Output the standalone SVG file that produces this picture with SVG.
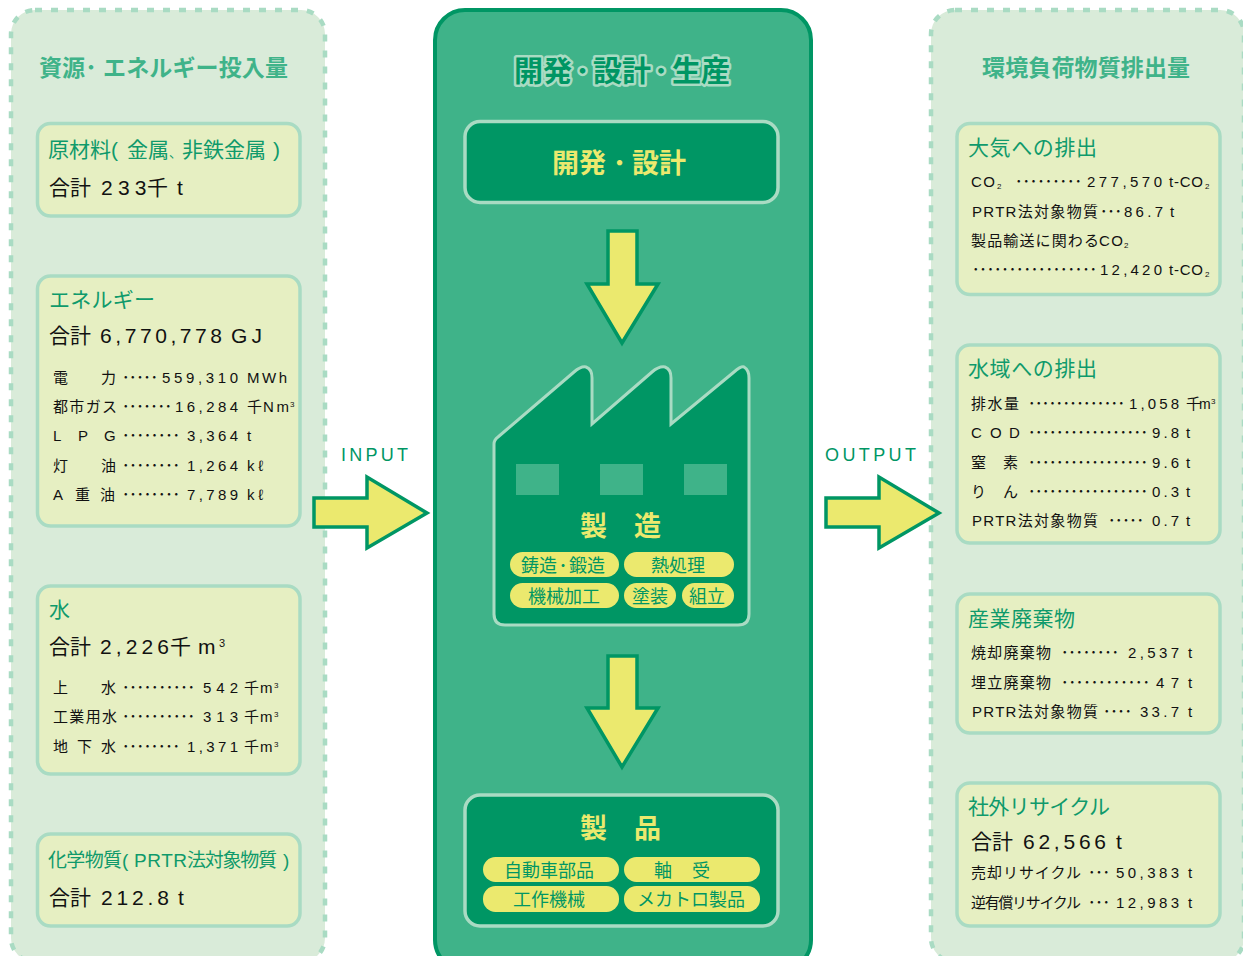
<svg xmlns="http://www.w3.org/2000/svg" width="1243" height="956" viewBox="0 0 1243 956">
<style>
text{font-family:"Liberation Sans","Noto Sans CJK JP",sans-serif}
.panel{fill:#d9ebd9;stroke:#a9dbc3;stroke-width:4.5;stroke-dasharray:7 9}
.box{fill:#e6efc2;stroke:#a9dbc3;stroke-width:3.5}
.dark{fill:#009664;stroke:#a9dbc3;stroke-width:3.5}
.arrow{fill:#ebe96e;stroke:#009664;stroke-width:3.5}
.ptitle{font-size:23px;font-weight:bold;fill:#3fb389}
.h{font-size:21px;fill:#0f9a6b}
.h2{font-size:19px;fill:#0f9a6b}
.t{font-size:21px;fill:#111}
.r{font-size:15px;fill:#111}
.s{font-size:8px;fill:#111}
.y{font-weight:bold;fill:#ebe96e;font-size:27px}
.ctitle{font-size:29px;font-weight:bold;fill:#009664;stroke:#a9dbc3;stroke-width:5;stroke-linejoin:round;paint-order:stroke}
.pill{fill:#ebe96e}
.pt{font-size:18px;fill:#009664;text-anchor:middle}
.io{font-size:18px;fill:#009664}
.m{text-anchor:middle}
</style>
<g id="panel-left">
<rect class="panel" x="11" y="10" width="314" height="952" rx="24"/>
<text class="ptitle" x="39" y="76">資源</text><text class="ptitle m" x="91" y="76">･</text><text class="ptitle" x="103" y="76" textLength="185" lengthAdjust="spacing">エネルギー投入量</text>
</g>
<g id="panel-center">
<rect x="435" y="10" width="376" height="960" rx="30" fill="#3fb389" stroke="#009664" stroke-width="4"/>
<text class="ctitle" x="514" y="82">開発</text><text class="ctitle m" x="582.500" y="82">･</text><text class="ctitle" x="593" y="82">設計</text><text class="ctitle m" x="661" y="82">･</text><text class="ctitle" x="672" y="82">生産</text>
</g>
<g id="panel-right">
<rect class="panel" x="931" y="10" width="313" height="952" rx="24"/>
<text class="ptitle" x="982" y="76" textLength="208" lengthAdjust="spacing">環境負荷物質排出量</text>
</g>

<g id="input-materials">
<rect class="box" x="37.5" y="123.5" width="262.5" height="92.5" rx="13"/>
<text class="h" x="48" y="157">原材料(</text><text class="h" x="127" y="157">金属</text><text class="h" x="169" y="157" style="font-size:13px">、</text><text class="h" x="182" y="157">非鉄金属</text><text class="h" x="273" y="157">)</text>
<text class="t" x="49" y="195">合計</text><text class="t" x="101" y="195" textLength="45.500" lengthAdjust="spacing">233</text><text class="t" x="147" y="195">千</text><text class="t" x="177" y="195">t</text>
</g>
<g id="input-energy">
<rect class="box" x="37.5" y="276" width="262.5" height="250" rx="13"/>
<text class="h" x="49" y="307" textLength="106" lengthAdjust="spacing">エネルギー</text>
<text class="t" x="49" y="343">合計</text><text class="t" x="100" y="343" textLength="122" lengthAdjust="spacing">6,770,778</text><text class="t" x="231" y="343" textLength="31" lengthAdjust="spacing">GJ</text>
<text class="r" x="53" y="383">電</text><text class="r" x="101" y="383">力</text>
<text class="r" x="122" y="383" textLength="36" lengthAdjust="spacing">･････</text>
<text class="r" x="162" y="383" textLength="76" lengthAdjust="spacing">559,310</text>
<text class="r" x="247" y="383" textLength="40" lengthAdjust="spacing">MWh</text>
<text class="r" x="53" y="412" textLength="64" lengthAdjust="spacing">都市ガス</text>
<text class="r" x="122" y="412" textLength="50" lengthAdjust="spacing">･･･････</text>
<text class="r" x="175" y="412" textLength="63" lengthAdjust="spacing">16,284</text>
<text class="r" x="247" y="412">千</text><text class="r" x="263" y="412" textLength="26" lengthAdjust="spacing">Nm</text><text class="s" x="290" y="407">3</text>
<text class="r" x="53" y="441">L</text><text class="r" x="78" y="441">P</text><text class="r" x="104" y="441">G</text>
<text class="r" x="122" y="441" textLength="58" lengthAdjust="spacing">････････</text>
<text class="r" x="187" y="441" textLength="51" lengthAdjust="spacing">3,364</text>
<text class="r" x="247" y="441">t</text>
<text class="r" x="53" y="471">灯</text><text class="r" x="101" y="471">油</text>
<text class="r" x="122" y="471" textLength="58" lengthAdjust="spacing">････････</text>
<text class="r" x="187" y="471" textLength="51" lengthAdjust="spacing">1,264</text>
<text class="r" x="247" y="471" textLength="16" lengthAdjust="spacing">kℓ</text>
<text class="r" x="53" y="500">A</text><text class="r" x="75" y="500">重</text><text class="r" x="100" y="500">油</text>
<text class="r" x="122" y="500" textLength="58" lengthAdjust="spacing">････････</text>
<text class="r" x="187" y="500" textLength="51" lengthAdjust="spacing">7,789</text>
<text class="r" x="247" y="500" textLength="16" lengthAdjust="spacing">kℓ</text>
</g>
<g id="input-water">
<rect class="box" x="37.5" y="586" width="262.5" height="188" rx="13"/>
<text class="h" x="49" y="617">水</text>
<text class="t" x="49" y="654">合計</text><text class="t" x="100" y="654" textLength="69" lengthAdjust="spacing">2,226</text><text class="t" x="170" y="654">千</text><text class="t" x="198" y="654">m</text><text class="s" x="219" y="647" style="font-size:11px">3</text>
<text class="r" x="53" y="693">上</text><text class="r" x="101" y="693">水</text>
<text class="r" x="122" y="693" textLength="73" lengthAdjust="spacing">･･････････</text>
<text class="r" x="203" y="693" textLength="35" lengthAdjust="spacing">542</text>
<text class="r" x="244" y="693">千</text><text class="r" x="260" y="693">m</text><text class="s" x="274" y="688">3</text>
<text class="r" x="53" y="722" textLength="64" lengthAdjust="spacing">工業用水</text>
<text class="r" x="122" y="722" textLength="73" lengthAdjust="spacing">･･････････</text>
<text class="r" x="203" y="722" textLength="35" lengthAdjust="spacing">313</text>
<text class="r" x="244" y="722">千</text><text class="r" x="260" y="722">m</text><text class="s" x="274" y="717">3</text>
<text class="r" x="53" y="752">地</text><text class="r" x="77" y="752">下</text><text class="r" x="101" y="752">水</text>
<text class="r" x="122" y="752" textLength="58" lengthAdjust="spacing">････････</text>
<text class="r" x="187" y="752" textLength="51" lengthAdjust="spacing">1,371</text>
<text class="r" x="244" y="752">千</text><text class="r" x="260" y="752">m</text><text class="s" x="274" y="747">3</text>
</g>
<g id="input-chemicals">
<rect class="box" x="37.5" y="834" width="262.5" height="92" rx="13"/>
<text class="h2" x="48" y="867" textLength="74" lengthAdjust="spacing">化学物質</text><text class="h2" x="122" y="867">(</text>
<text class="h2" x="134" y="867" textLength="53" lengthAdjust="spacing">PRTR</text><text class="h2" x="187" y="867" textLength="90" lengthAdjust="spacing">法対象物質</text><text class="h2" x="283" y="867">)</text>
<text class="t" x="49" y="905">合計</text><text class="t" x="101" y="905" textLength="68" lengthAdjust="spacing">212.8</text><text class="t" x="178" y="905">t</text>
</g>

<g id="design">
<rect class="dark" x="465" y="121.500" width="313" height="81" rx="15"/>
<text class="y" x="552" y="173">開発</text><text class="y m" x="619.500" y="173">･</text><text class="y" x="632" y="173">設計</text>
</g>
<g id="factory">
<path d="M494 615V444Q494 440 498 437L574 372Q581 366 586 367Q592 369 592 378V424L652 372Q659 366 665 367Q671 369 671 378V424L734 372Q741 366 744 367Q749 370 749 378V614Q749 625 738 625H505Q494 625 494 614Z" fill="#009664" stroke="#a9dbc3" stroke-width="3"/>
<rect x="516" y="464" width="43" height="31" fill="#3fb389"/>
<rect x="600" y="464" width="43" height="31" fill="#3fb389"/>
<rect x="684" y="464" width="43" height="31" fill="#3fb389"/>
<text class="y" x="580" y="536">製</text><text class="y" x="634" y="536">造</text>
<rect class="pill" x="510" y="552" width="109" height="25" rx="12.500"/>
<text class="pt" x="539" y="572">鋳造</text><text class="pt" x="563" y="572">･</text><text class="pt" x="587" y="572">鍛造</text>
<rect class="pill" x="624" y="552" width="110" height="25" rx="12.500"/>
<text class="pt" x="678" y="572">熱処理</text>
<rect class="pill" x="510" y="583" width="109" height="25" rx="12.500"/>
<text class="pt" x="564" y="603">機械加工</text>
<rect class="pill" x="624" y="583" width="52" height="25" rx="12.500"/>
<text class="pt" x="650" y="603">塗装</text>
<rect class="pill" x="682" y="583" width="52" height="25" rx="12.500"/>
<text class="pt" x="707" y="603">組立</text>
</g>
<g id="products">
<rect class="dark" x="465" y="795" width="313" height="131" rx="15"/>
<text class="y" x="580" y="838">製</text><text class="y" x="634" y="838">品</text>
<rect class="pill" x="483" y="857" width="136" height="25" rx="12.500"/>
<text class="pt" x="549" y="877">自動車部品</text>
<rect class="pill" x="624" y="857" width="136" height="25" rx="12.500"/>
<text class="pt" x="663" y="877">軸</text><text class="pt" x="701" y="877">受</text>
<rect class="pill" x="483" y="886" width="136" height="26" rx="12.500"/>
<text class="pt" x="549" y="906">工作機械</text>
<rect class="pill" x="624" y="886" width="136" height="26" rx="12.500"/>
<text class="pt" x="691" y="906">メカトロ製品</text>
</g>

<g id="output-air">
<rect class="box" x="957" y="123.500" width="263" height="171" rx="13"/>
<text class="h" x="968" y="155" textLength="129" lengthAdjust="spacing">大気への排出</text>
<text class="r" x="971" y="187" textLength="24" lengthAdjust="spacing">CO</text><text class="s" x="997" y="189">2</text>
<text class="r" x="1015" y="187" textLength="67" lengthAdjust="spacing">･････････</text>
<text class="r" x="1087" y="187" textLength="75" lengthAdjust="spacing">277,570</text>
<text class="r" x="1169" y="187" textLength="34" lengthAdjust="spacing">t-CO</text><text class="s" x="1205" y="189">2</text>
<text class="r" x="972" y="217" textLength="126" lengthAdjust="spacing">PRTR法対象物質</text>
<text class="r" x="1100" y="217" textLength="22" lengthAdjust="spacing">･･･</text>
<text class="r" x="1124" y="217" textLength="39" lengthAdjust="spacing">86.7</text>
<text class="r" x="1170" y="217">t</text>
<text class="r" x="971" y="246" textLength="128" lengthAdjust="spacing">製品輸送に関わる</text><text class="r" x="1099" y="246" textLength="24" lengthAdjust="spacing">CO</text><text class="s" x="1124" y="248">2</text>
<text class="r" x="972" y="275" textLength="125" lengthAdjust="spacing">･････････････････</text>
<text class="r" x="1100" y="275" textLength="62" lengthAdjust="spacing">12,420</text>
<text class="r" x="1169" y="275" textLength="34" lengthAdjust="spacing">t-CO</text><text class="s" x="1205" y="277">2</text>
</g>
<g id="output-water">
<rect class="box" x="957" y="345" width="263" height="198" rx="13"/>
<text class="h" x="968" y="376" textLength="129" lengthAdjust="spacing">水域への排出</text>
<text class="r" x="971" y="409" textLength="48" lengthAdjust="spacing">排水量</text>
<text class="r" x="1028" y="409" textLength="97" lengthAdjust="spacing">･･････････････</text>
<text class="r" x="1129" y="409" textLength="50" lengthAdjust="spacing">1,058</text>
<text class="r" x="1186" y="409">千</text><text class="r" x="1199" y="409" style="font-size:14px">m</text><text class="s" x="1211" y="404">3</text>
<text class="r" x="971" y="438">C</text><text class="r" x="990" y="438">O</text><text class="r" x="1009" y="438">D</text>
<text class="r" x="1028" y="438" textLength="120" lengthAdjust="spacing">･････････････････</text>
<text class="r" x="1152" y="438" textLength="27" lengthAdjust="spacing">9.8</text>
<text class="r" x="1186" y="438">t</text>
<text class="r" x="971" y="468">窒</text><text class="r" x="1003" y="468">素</text>
<text class="r" x="1028" y="468" textLength="120" lengthAdjust="spacing">･････････････････</text>
<text class="r" x="1152" y="468" textLength="27" lengthAdjust="spacing">9.6</text>
<text class="r" x="1186" y="468">t</text>
<text class="r" x="971" y="497">り</text><text class="r" x="1003" y="497">ん</text>
<text class="r" x="1028" y="497" textLength="120" lengthAdjust="spacing">･････････････････</text>
<text class="r" x="1152" y="497" textLength="27" lengthAdjust="spacing">0.3</text>
<text class="r" x="1186" y="497">t</text>
<text class="r" x="972" y="526" textLength="126" lengthAdjust="spacing">PRTR法対象物質</text>
<text class="r" x="1108" y="526" textLength="36" lengthAdjust="spacing">･････</text>
<text class="r" x="1152" y="526" textLength="27" lengthAdjust="spacing">0.7</text>
<text class="r" x="1186" y="526">t</text>
</g>
<g id="output-waste">
<rect class="box" x="957" y="594" width="263" height="139" rx="13"/>
<text class="h" x="968" y="626" textLength="107" lengthAdjust="spacing">産業廃棄物</text>
<text class="r" x="971" y="658" textLength="80" lengthAdjust="spacing">焼却廃棄物</text>
<text class="r" x="1061" y="658" textLength="58" lengthAdjust="spacing">････････</text>
<text class="r" x="1128" y="658" textLength="51" lengthAdjust="spacing">2,537</text>
<text class="r" x="1188" y="658">t</text>
<text class="r" x="971" y="688" textLength="80" lengthAdjust="spacing">埋立廃棄物</text>
<text class="r" x="1061" y="688" textLength="89" lengthAdjust="spacing">････････････</text>
<text class="r" x="1156" y="688" textLength="23" lengthAdjust="spacing">47</text>
<text class="r" x="1188" y="688">t</text>
<text class="r" x="972" y="717" textLength="126" lengthAdjust="spacing">PRTR法対象物質</text>
<text class="r" x="1103" y="717" textLength="29" lengthAdjust="spacing">････</text>
<text class="r" x="1140" y="717" textLength="39" lengthAdjust="spacing">33.7</text>
<text class="r" x="1188" y="717">t</text>
</g>
<g id="output-recycle">
<rect class="box" x="957" y="783" width="263" height="143" rx="13"/>
<text class="h" x="968" y="814" textLength="142" lengthAdjust="spacing">社外リサイクル</text>
<text class="t" x="971" y="849">合計</text><text class="t" x="1023" y="849" textLength="83" lengthAdjust="spacing">62,566</text><text class="t" x="1116" y="849">t</text>
<text class="r" x="971" y="878" textLength="110" lengthAdjust="spacing">売却リサイクル</text>
<text class="r" x="1088" y="878" textLength="22" lengthAdjust="spacing">･･･</text>
<text class="r" x="1116" y="878" textLength="63" lengthAdjust="spacing">50,383</text>
<text class="r" x="1188" y="878">t</text>
<text class="r" x="971" y="908" textLength="110" lengthAdjust="spacing">逆有償リサイクル</text>
<text class="r" x="1088" y="908" textLength="22" lengthAdjust="spacing">･･･</text>
<text class="r" x="1116" y="908" textLength="63" lengthAdjust="spacing">12,983</text>
<text class="r" x="1188" y="908">t</text>
</g>

<g id="connectors">
<path class="arrow" d="M608 231H637V284H658L622 343L587 284H608Z"/>
<path class="arrow" d="M608 656H637V708H658L622 767L587 708H608Z"/>
<path class="arrow" d="M314 498H367V477L427 513L367 548V527H314Z"/>
<path class="arrow" d="M826 498H879V477L939 513L879 548V527H826Z"/>
<text class="io" x="341" y="461" textLength="67" lengthAdjust="spacing">INPUT</text>
<text class="io" x="825" y="461" textLength="91" lengthAdjust="spacing">OUTPUT</text>
</g>
</svg>
